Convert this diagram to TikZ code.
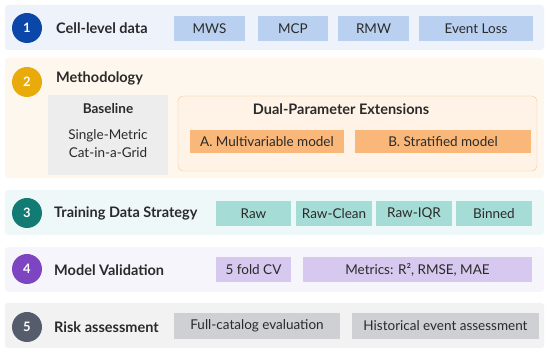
\documentclass[tikz,border=0pt]{standalone}
\usepackage{fontspec}
\setmainfont{Lato}
\usepackage{xcolor}
\usepackage{tikz}
\usetikzlibrary{positioning}
\definecolor{clrA}{HTML}{0B47A8}
\definecolor{clrB}{HTML}{E9AB0C}
\definecolor{clrC}{HTML}{127B73}
\definecolor{clrD}{HTML}{7E45C2}
\definecolor{clrE}{HTML}{555C6B}
\definecolor{bgA}{HTML}{EEF3FB}
\definecolor{bgB}{HTML}{FEF7ED}
\definecolor{bgC}{HTML}{EEF8F8}
\definecolor{bgD}{HTML}{F7F5FC}
\definecolor{bgE}{HTML}{F2F2F2}
\definecolor{chipA}{HTML}{BAD0F0}
\definecolor{chipB}{HTML}{F9B87A}
\definecolor{chipC}{HTML}{A6DCD6}
\definecolor{chipD}{HTML}{D6C8EE}
\definecolor{chipE}{HTML}{CFD0D3}
\definecolor{baseG}{HTML}{EDEDED}
\definecolor{dualF}{HTML}{FEF3E6}
\definecolor{dualD}{HTML}{F5C893}
\definecolor{txtG}{HTML}{2A2A2A}
\tikzset{
  panel/.style={rectangle,rounded corners=3pt,draw=none,minimum width=539pt,
    minimum height=45pt,inner sep=0pt},
  num/.style={circle,minimum size=30pt,inner sep=0pt,text=white,
    font=\fontsize{13}{15}\selectfont\bfseries},
  title/.style={anchor=west,inner sep=0pt,text=txtG,
    font=\fontsize{14.5}{17}\selectfont\bfseries},
  chip/.style={rectangle,minimum height=25pt,inner sep=0pt,text=txtG,
    font=\fontsize{13.5}{15}\selectfont},
  chipA/.style={chip,fill=chipA},
  chipB/.style={chip,fill=chipB,minimum height=23pt},
  chipC/.style={chip,fill=chipC},
  chipD/.style={chip,fill=chipD},
  chipE/.style={chip,fill=chipE,minimum height=26pt}
}
\begin{document}
\begin{tikzpicture}[x=1pt,y=-1pt]
  \useasboundingbox (0,0) rectangle (550,355);
  % row 1
  \node[panel,fill=bgA] (rowA) at (274.5,27.5) {};
  \node[num,fill=clrA] (numA) at (27,28) {1};
  \node[title] (titleA) at (56,28) {Cell-level data};
  \node[chipA,minimum width=71pt] (mws) at (209.5,28.5) {MWS};
  \node[chipA,minimum width=70pt] (mcp) at (293,28.5) {MCP};
  \node[chipA,minimum width=71pt] (rmw) at (373.5,28.5) {RMW};
  \node[chipA,minimum width=114pt] (loss) at (476,28.5) {Event Loss};
  % row 2
  \node[panel,fill=bgB,minimum height=120pt] (rowB) at (274.5,118) {};
  \node[num,fill=clrB] (numB) at (27,82) {2};
  \node[title] (titleB) at (56,78) {Methodology};
  \node[rectangle,fill=baseG,minimum width=120pt,minimum height=80pt] (base) at (108,135) {};
  \node[font=\fontsize{13.5}{16}\selectfont\bfseries,text=txtG] (baseT) at (108,109) {Baseline};
  \node[font=\fontsize{13.5}{18}\selectfont,text=txtG,align=center] (baseS) at (108,144)
    {Single-Metric\\Cat-in-a-Grid};
  \node[rectangle,rounded corners=5pt,draw=dualD,fill=dualF,minimum width=359pt,
    minimum height=75pt] (dual) at (357.5,133.5) {};
  \node[font=\fontsize{14.5}{17}\selectfont\bfseries,text=txtG] (dualT) at (341,109)
    {Dual-Parameter Extensions};
  \node[chipB,minimum width=154pt] (multi) at (267,141.5) {A. Multivariable model};
  \node[chipB,minimum width=176pt] (strat) at (443,141.5) {B. Stratified model};
  % row 3
  \node[panel,fill=bgC] (rowC) at (274.5,212.5) {};
  \node[num,fill=clrC] (numC) at (27,213) {3};
  \node[title] (titleC) at (54,213) {Training Data Strategy};
  \node[chipC,minimum width=75pt] (raw) at (253.5,213.5) {Raw};
  \node[chipC,minimum width=76pt] (clean) at (334,213.5) {Raw-Clean};
  \node[chipC,minimum width=76pt] (iqr) at (414,213.5) {Raw-IQR};
  \node[chipC,minimum width=76pt] (binned) at (494,213.5) {Binned};
  % row 4
  \node[panel,fill=bgD] (rowD) at (274.5,269.5) {};
  \node[num,fill=clrD] (numD) at (27,269) {4};
  \node[title] (titleD) at (54,270) {Model Validation};
  \node[chipD,minimum width=75pt] (cv) at (253.5,269.5) {5 fold CV};
  \node[chipD,minimum width=229pt] (metrics) at (417.5,269.5) {Metrics: R², RMSE, MAE};
  % row 5
  \node[panel,fill=bgE] (rowE) at (274.5,325.5) {};
  \node[num,fill=clrE] (numE) at (27,327) {5};
  \node[title] (titleE) at (54,327) {Risk assessment};
  \node[chipE,minimum width=166pt] (full) at (257,326) {Full-catalog evaluation};
  \node[chipE,minimum width=187pt] (hist) at (445.5,326) {Historical event assessment};
\end{tikzpicture}
\end{document}
